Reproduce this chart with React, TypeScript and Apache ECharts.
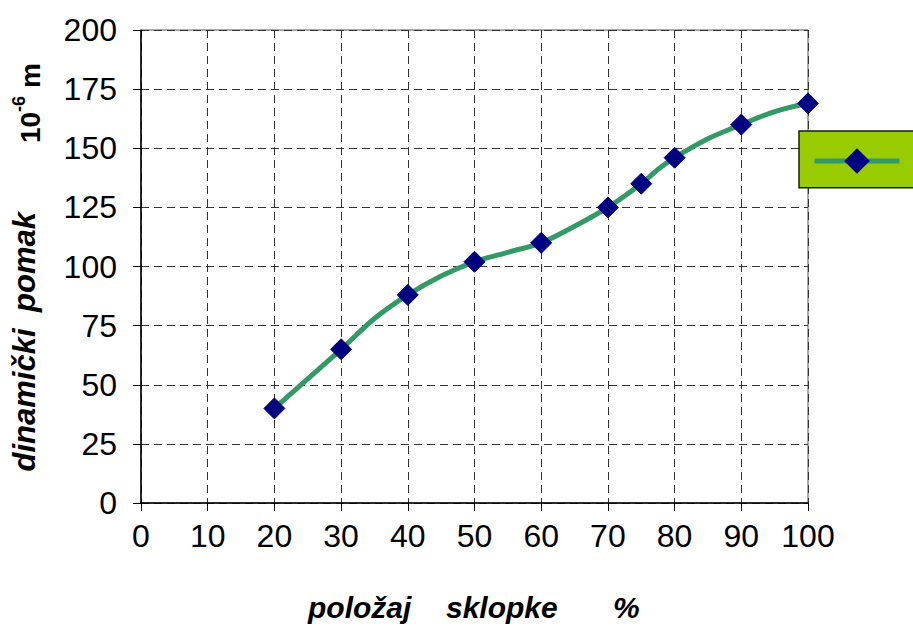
import React, { useEffect, useRef } from "react";
import * as echarts from "echarts";

// position of the switch (%) and dynamic displacement (10^-6 m)
const positions = [20, 30, 35, 40, 45, 50, 55, 60, 65, 70, 75, 77.5, 80, 85, 90, 95, 100];
const displacement = [40, 65, 78, 88, 96, 102, 106, 110, 117, 125, 135, 141, 146, 154, 160, 165.5, 169];
const markerPositions = [20, 30, 40, 50, 60, 70, 75, 80, 90, 100];

const xTicks = [0, 10, 20, 30, 40, 50, 60, 70, 80, 90, 100];
const yTicks = [0, 25, 50, 75, 100, 125, 150, 175, 200];

const FONT = "'Liberation Sans', Arial, sans-serif";
const LINE_COLOR = "#339966";
const MARKER_COLOR = "#000080";

export default function App() {
  const ref = useRef<HTMLDivElement>(null);

  useEffect(() => {
    document.body.style.margin = "0";
    if (!ref.current) return;
    const chart = echarts.init(ref.current, null, { renderer: "svg" });

    const seriesData = positions.map((p, i) => {
      const shown = markerPositions.includes(p);
      return shown
        ? { value: [p, displacement[i]] }
        : { value: [p, displacement[i]], symbol: "none", symbolSize: 0 };
    });

    const option: any = {
      animation: false,
      backgroundColor: "#ffffff",
      grid: {
        left: 141,
        right: 105,
        top: 30,
        bottom: 123,
        show: true,
        borderColor: "#555555",
        borderWidth: 1,
        backgroundColor: "transparent",
      },
      legend: {
        show: true,
        left: 799,
        top: 131,
        orient: "horizontal",
        backgroundColor: "#99CC00",
        borderColor: "#1a1a1a",
        borderWidth: 1.5,
        padding: [14, 20, 14, 13],
        itemWidth: 85,
        itemHeight: 32,
        formatter: () => "",
        itemStyle: { color: MARKER_COLOR, borderColor: MARKER_COLOR },
        lineStyle: { color: LINE_COLOR, width: 5 },
        data: ["niz"],
      },
      xAxis: {
        type: "value",
        min: xTicks[0],
        max: xTicks[xTicks.length - 1],
        interval: 10,
        axisLine: { show: true, lineStyle: { color: "#000", width: 1.5 } },
        axisTick: { show: true, length: 8, inside: false, lineStyle: { color: "#000" } },
        axisLabel: {
          color: "#000",
          fontSize: 32,
          fontFamily: FONT,
          margin: 17,
        },
        splitLine: {
          show: true,
          lineStyle: { color: "#333", width: 1, type: [8, 5] },
        },
      },
      yAxis: {
        type: "value",
        min: yTicks[0],
        max: yTicks[yTicks.length - 1],
        interval: 25,
        axisLine: { show: true, lineStyle: { color: "#000", width: 1.5 } },
        axisTick: { show: true, length: 8, inside: false, lineStyle: { color: "#000" } },
        axisLabel: {
          color: "#000",
          fontSize: 32,
          fontFamily: FONT,
          margin: 24,
        },
        splitLine: {
          show: true,
          lineStyle: { color: "#333", width: 1, type: [8, 5] },
        },
      },
      series: [
        {
          name: "niz",
          type: "line",
          smooth: 0.3,
          symbol: "diamond",
          symbolSize: 21,
          showAllSymbol: true,
          data: seriesData,
          lineStyle: { color: LINE_COLOR, width: 5 },
          itemStyle: { color: MARKER_COLOR, borderColor: MARKER_COLOR },
        },
      ],
      graphic: [
        {
          type: "text",
          x: 308,
          y: 607,
          style: {
            text: "položaj",
            fill: "#000",
            fontSize: 30,
            fontFamily: FONT,
            fontWeight: "bold",
            fontStyle: "italic",
            textAlign: "left",
            textVerticalAlign: "middle",
          },
        },
        {
          type: "text",
          x: 446,
          y: 607,
          style: {
            text: "sklopke",
            fill: "#000",
            fontSize: 30,
            fontFamily: FONT,
            fontWeight: "bold",
            fontStyle: "italic",
            textAlign: "left",
            textVerticalAlign: "middle",
          },
        },
        {
          type: "text",
          x: 613,
          y: 607,
          style: {
            text: "%",
            fill: "#000",
            fontSize: 30,
            fontFamily: FONT,
            fontWeight: "bold",
            fontStyle: "italic",
            textAlign: "left",
            textVerticalAlign: "middle",
          },
        },
        {
          type: "text",
          x: 24,
          y: 400,
          rotation: Math.PI / 2,
          style: {
            text: "dinamički",
            fill: "#000",
            fontSize: 31,
            fontFamily: FONT,
            fontWeight: "bold",
            fontStyle: "italic",
            textAlign: "center",
            textVerticalAlign: "middle",
          },
        },
        {
          type: "text",
          x: 24,
          y: 262,
          rotation: Math.PI / 2,
          style: {
            text: "pomak",
            fill: "#000",
            fontSize: 31,
            fontFamily: FONT,
            fontWeight: "bold",
            fontStyle: "italic",
            textAlign: "center",
            textVerticalAlign: "middle",
          },
        },
        {
          type: "group",
          x: 30,
          y: 104,
          rotation: Math.PI / 2,
          children: [
            {
              type: "text",
              x: -39,
              y: 0,
              style: {
                text: "10",
                fill: "#000",
                fontSize: 28,
                fontFamily: FONT,
                fontWeight: "bold",
                textAlign: "left",
                textVerticalAlign: "middle",
              },
            },
            {
              type: "text",
              x: -8,
              y: -11,
              style: {
                text: "-6",
                fill: "#000",
                fontSize: 18,
                fontFamily: FONT,
                fontWeight: "bold",
                textAlign: "left",
                textVerticalAlign: "middle",
              },
            },
            {
              type: "text",
              x: 16,
              y: 0,
              style: {
                text: "m",
                fill: "#000",
                fontSize: 28,
                fontFamily: FONT,
                fontWeight: "bold",
                textAlign: "left",
                textVerticalAlign: "middle",
              },
            },
          ],
        },
      ],
    };

    chart.setOption(option);
    return () => chart.dispose();
  }, []);

  return <div ref={ref} style={{ width: 913, height: 626 }} />;
}
